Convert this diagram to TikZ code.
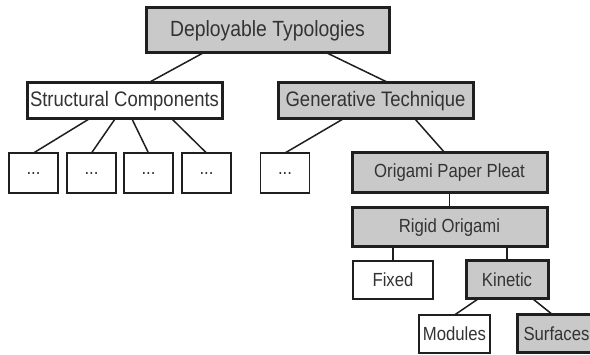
\documentclass[tikz,border=0pt]{standalone}
\usepackage{fontspec}
\setmainfont[FakeStretch=0.88]{Liberation Sans}
\usetikzlibrary{positioning}

\begin{document}
\begin{tikzpicture}[
  font=\fontsize{19}{22}\selectfont,
  box/.style={draw=black!88, text=black!80, line width=3pt, outer sep=0pt, inner sep=0pt,
              minimum width=195pt, minimum height=38pt, align=center},
  shaded/.style={box, fill=black!21},
  plain/.style={box, fill=white},
  leaf/.style={box, fill=white, line width=1.6pt},
  dots/.style={leaf, minimum width=49pt, minimum height=40pt},
  link/.style={draw=black!88, line width=1.5pt}]
  \useasboundingbox (0,0) rectangle (590pt,-355pt);
  \node[shaded, minimum width=243pt, minimum height=45pt, font=\fontsize{22}{26}\selectfont]
       (dt) at (267.5pt,-30.5pt) {Deployable Typologies};
  \node[plain, minimum height=36pt, font=\fontsize{21}{25}\selectfont,
        below=30pt of dt, xshift=-143pt] (sc) {Structural Components};
  \node[shaded, minimum height=36pt, font=\fontsize{21}{25}\selectfont,
        below=30pt of dt, xshift=108pt] (gt) {Generative Technique};
  \node[dots, below=34pt of sc, xshift=-91pt] (d1) {...};
  \node[dots, right=9pt of d1] (d2) {...};
  \node[dots, right=8pt of d2] (d3) {...};
  \node[dots, right=9pt of d3] (d4) {...};
  \node[dots, below=34pt of gt, xshift=-90.5pt] (d5) {...};
  \node[shaded, minimum height=40pt, below=34pt of gt, xshift=74pt] (opp) {Origami Paper Pleat};
  \node[shaded, minimum height=39pt, below=15pt of opp] (ro) {Rigid Origami};
  \node[leaf, minimum width=80pt, below=14pt of ro, xshift=-56.5pt] (fix) {Fixed};
  \node[shaded, minimum width=82pt, below=14pt of ro, xshift=57.5pt] (kin) {Kinetic};
  \node[leaf, minimum width=71pt, below=16pt of kin, xshift=-52.5pt] (mod) {Modules};
  \node[shaded, minimum width=79pt, right=27pt of mod] (surf) {Surfaces};
  \draw[link] ([xshift=-64.5pt]dt.south) -- ([xshift=23.5pt]sc.north);
  \draw[link] ([xshift=59.5pt]dt.south) -- ([xshift=13.5pt]gt.north);
  \draw[link] ([xshift=-35.5pt]sc.south) -- (d1.north);
  \draw[link] ([xshift=-9.5pt]sc.south) -- (d2.north);
  \draw[link] ([xshift=7.5pt]sc.south) -- (d3.north);
  \draw[link] ([xshift=47.5pt]sc.south) -- (d4.north);
  \draw[link] ([xshift=-32.5pt]gt.south) -- (d5.north);
  \draw[link] ([xshift=39.5pt]gt.south) -- ([xshift=-4.5pt]opp.north);
  \draw[link] (opp) -- (ro);
  \draw[link] (fix.north |- ro.south) -- (fix.north);
  \draw[link] (kin.north |- ro.south) -- (kin.north);
  \draw[link] ([xshift=-29pt]kin.south) -- (mod.north);
  \draw[link] ([xshift=26pt]kin.south) -- ([xshift=-3.5pt]surf.north);
\end{tikzpicture}
\end{document}
